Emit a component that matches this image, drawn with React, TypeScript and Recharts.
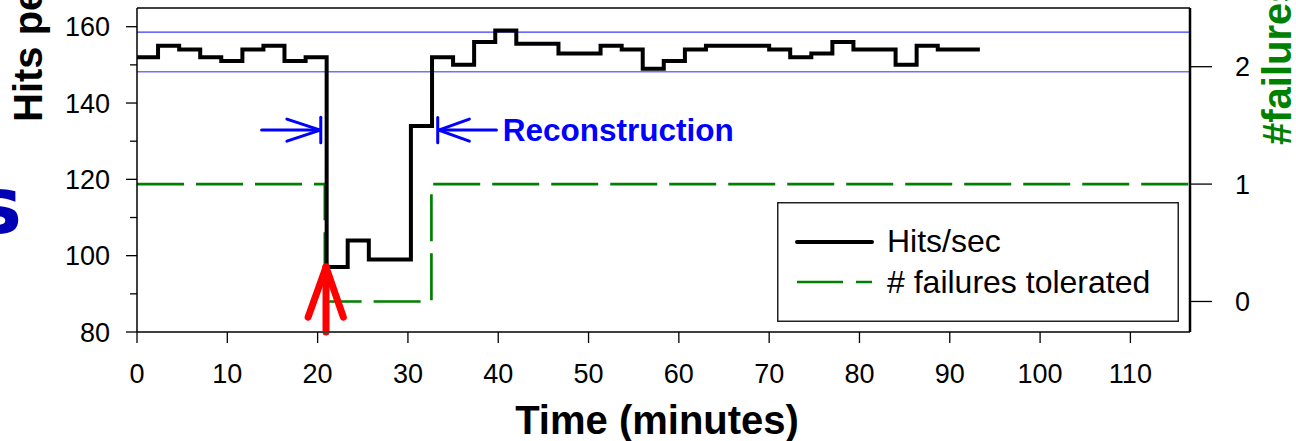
import React from 'react';
import { LineChart, Line, XAxis, YAxis, ReferenceLine, ReferenceDot, Legend } from 'recharts';

const FONT = '"Liberation Sans", Arial, Helvetica, sans-serif';

// hits per second, one sample every ~2.33 minutes (drawn as steps)
const hitTimes = [
  0, 2.33, 4.67, 7, 9.33, 11.67, 14, 16.33, 18.67, 21, 23.33, 25.67, 28, 30.33, 32.67, 35, 37.33,
  39.67, 42, 44.33, 46.67, 49, 51.33, 53.67, 56, 58.33, 60.67, 63, 65.33, 67.67, 70, 72.33, 74.67,
  77, 79.33, 81.67, 84, 86.33, 88.67, 91, 93.33,
];
const hitsPerSec = [
  152, 155, 154, 152, 151, 154, 155, 151, 152, 97, 104, 99, 99, 134, 152, 150, 156,
  159, 155.5, 155.5, 153, 153, 155, 154, 149, 151, 154, 155, 155, 155, 154, 152, 153,
  156, 154, 154, 150, 155, 154, 154, 154,
];

// number of failures tolerated
const failureTimes = [0, 20.8, 32.6, 116.6];
const failuresTolerated = [1, 0, 1, 1];

const xTicks = [0, 10, 20, 30, 40, 50, 60, 70, 80, 90, 100, 110];
const hitsTicks = [80, 90, 100, 110, 120, 130, 140, 150, 160];
const hitsLabelTicks = [80, 100, 120, 140, 160];
const failureTicks = [0, 1, 2];
const bandLines = [158.6, 148.2];

const hitsData = hitTimes.map((t, i) => ({ t, hits: hitsPerSec[i] }));
const failureData = failureTimes.map((t, i) => ({ t, failures: failuresTolerated[i] }));

// annotation arrows, in data units (minutes, hits/sec)
const blueSegments = [
  // failure marker arrow
  [{ x: 13.8, y: 132.9 }, { x: 20.3, y: 132.9 }],
  [{ x: 16.6, y: 135.8 }, { x: 20.3, y: 132.9 }],
  [{ x: 16.6, y: 130.0 }, { x: 20.3, y: 132.9 }],
  [{ x: 20.35, y: 129.6 }, { x: 20.35, y: 136.3 }],
  // reconstruction end arrow
  [{ x: 33.4, y: 132.9 }, { x: 39.8, y: 132.9 }],
  [{ x: 36.8, y: 135.8 }, { x: 33.4, y: 132.9 }],
  [{ x: 36.8, y: 130.0 }, { x: 33.4, y: 132.9 }],
  [{ x: 33.3, y: 129.6 }, { x: 33.3, y: 136.2 }],
];
const redSegments = [
  [{ x: 20.93, y: 80 }, { x: 20.93, y: 97 }],
  [{ x: 18.95, y: 83.9 }, { x: 20.93, y: 97 }],
  [{ x: 22.85, y: 83.9 }, { x: 20.93, y: 97 }],
];

const LeftTick = (props: any) => {
  const { x, y, payload } = props;
  const major = hitsLabelTicks.includes(payload.value);
  return (
    <g>
      <line x1={x - (major ? 11 : 7)} x2={x} y1={y} y2={y} stroke="#000" strokeWidth={1.3} />
      {major && (
        <text x={x - 27} y={y} dy={9.5} textAnchor="end" fontSize={27} fill="#000" fontFamily={FONT}>
          {payload.value}
        </text>
      )}
    </g>
  );
};

const LeftTitle = () => (
  <g>
    <text
      x={42}
      y={122}
      transform="rotate(-90 42 122)"
      fontSize={40}
      fontWeight="bold"
      fill="#000"
      fontFamily={FONT}
    >
      Hits per second
    </text>
    <text x={22} y={233} textAnchor="end" fontSize={78} fontWeight="bold" fill="#0000b4" fontFamily="DejaVu Sans, sans-serif">
      s
    </text>
  </g>
);

const RightTitle = () => (
  <text
    x={1291}
    y={145}
    transform="rotate(-90 1291 145)"
    fontSize={40}
    fontWeight="bold"
    fill="#008000"
    fontFamily={FONT}
  >
    #failures tolerated
  </text>
);

const BottomTitle = () => (
  <text x={657} y={434} textAnchor="middle" fontSize={40} fontWeight="bold" fill="#000" fontFamily={FONT}>
    Time (minutes)
  </text>
);

const LegendBox = () => (
  <svg width={402} height={120} style={{ display: 'block' }}>
    <rect x={0.75} y={0.75} width={400.5} height={118.5} fill="#fff" stroke="#222" strokeWidth={1.5} />
    <line x1={20} x2={95} y1={40} y2={40} stroke="#000" strokeWidth={4} strokeLinecap="round" />
    <text x={110} y={50} fontSize={32} fill="#000" fontFamily={FONT}>Hits/sec</text>
    <line x1={20} x2={95} y1={80} y2={80} stroke="#008000" strokeWidth={2.7} strokeDasharray="46 13" />
    <text x={110} y={91} fontSize={32} fill="#000" fontFamily={FONT}># failures tolerated</text>
  </svg>
);

const ReconLabel = (props: any) => (
  <text x={props.cx} y={props.cy} dy={11} fontSize={31.5} fontWeight="bold" fill="#0000ff" fontFamily={FONT}>
    Reconstruction
  </text>
);

export default function App() {
  return (
    <div style={{ position: 'absolute', left: 0, top: 0, background: '#fff' }}>
      <LineChart width={1296} height={441} margin={{ top: 8, right: 0, bottom: 0, left: 0 }}>
        <XAxis
          dataKey="t"
          type="number"
          domain={[0, 116.6]}
          allowDataOverflow
          ticks={xTicks}
          interval={0}
          height={109}
          tickSize={11}
          tickMargin={21}
          stroke="#404040"
          strokeWidth={2}
          tickLine={{ stroke: '#000', strokeWidth: 1.3 }}
          tick={{ fontSize: 27, fill: '#000', fontFamily: FONT }}
          label={BottomTitle}
        />
        <YAxis
          yAxisId="left"
          type="number"
          domain={[80, 164.9]}
          allowDataOverflow
          ticks={hitsTicks}
          interval={0}
          width={137}
          tickSize={0}
          tickMargin={0}
          tickLine={false}
          tick={LeftTick}
          axisLine={{ stroke: '#000', strokeWidth: 1.5 }}
          label={LeftTitle}
        />
        <YAxis
          yAxisId="right"
          orientation="right"
          type="number"
          domain={[-0.26, 2.5]}
          allowDataOverflow
          ticks={failureTicks}
          interval={0}
          width={106}
          tickSize={22}
          tickMargin={23}
          tickLine={{ stroke: '#000', strokeWidth: 1.3 }}
          axisLine={{ stroke: '#000', strokeWidth: 2.5 }}
          tick={{ fontSize: 27, fill: '#000', fontFamily: FONT }}
          label={RightTitle}
        />
        {/* top frame */}
        <ReferenceLine yAxisId="left" y={164.9} stroke="#404040" strokeWidth={2} />
        {bandLines.map((v, i) => (
          <ReferenceLine
            key={v}
            yAxisId="left"
            y={v}
            stroke={i === 0 ? '#3a3aff' : '#7070ff'}
            strokeWidth={i === 0 ? 1.2 : 1.5}
          />
        ))}
        <Line
          data={failureData}
          yAxisId="right"
          dataKey="failures"
          type="stepAfter"
          stroke="#008000"
          strokeWidth={2.7}
          strokeDasharray="47 12"
          dot={false}
          isAnimationActive={false}
        />
        <Line
          data={hitsData}
          yAxisId="left"
          dataKey="hits"
          type="stepAfter"
          stroke="#000"
          strokeWidth={4}
          dot={false}
          isAnimationActive={false}
        />
        {blueSegments.map((s, i) => (
          <ReferenceLine
            key={'b' + i}
            yAxisId="left"
            segment={s}
            stroke="#0000ff"
            strokeWidth={3}
            strokeLinecap="round"
          />
        ))}
        {redSegments.map((s, i) => (
          <ReferenceLine
            key={'r' + i}
            yAxisId="left"
            segment={s}
            stroke="#ff0000"
            strokeWidth={7}
            strokeLinecap="round"
          />
        ))}
        <ReferenceDot yAxisId="left" x={40.5} y={132.9} shape={ReconLabel} />
        <Legend
          content={LegendBox}
          layout="horizontal"
          align="center"
          verticalAlign="middle"
          width={402}
          height={120}
          wrapperStyle={{ position: 'absolute', left: 777, top: 202, width: 402, height: 120 }}
        />
      </LineChart>
    </div>
  );
}
